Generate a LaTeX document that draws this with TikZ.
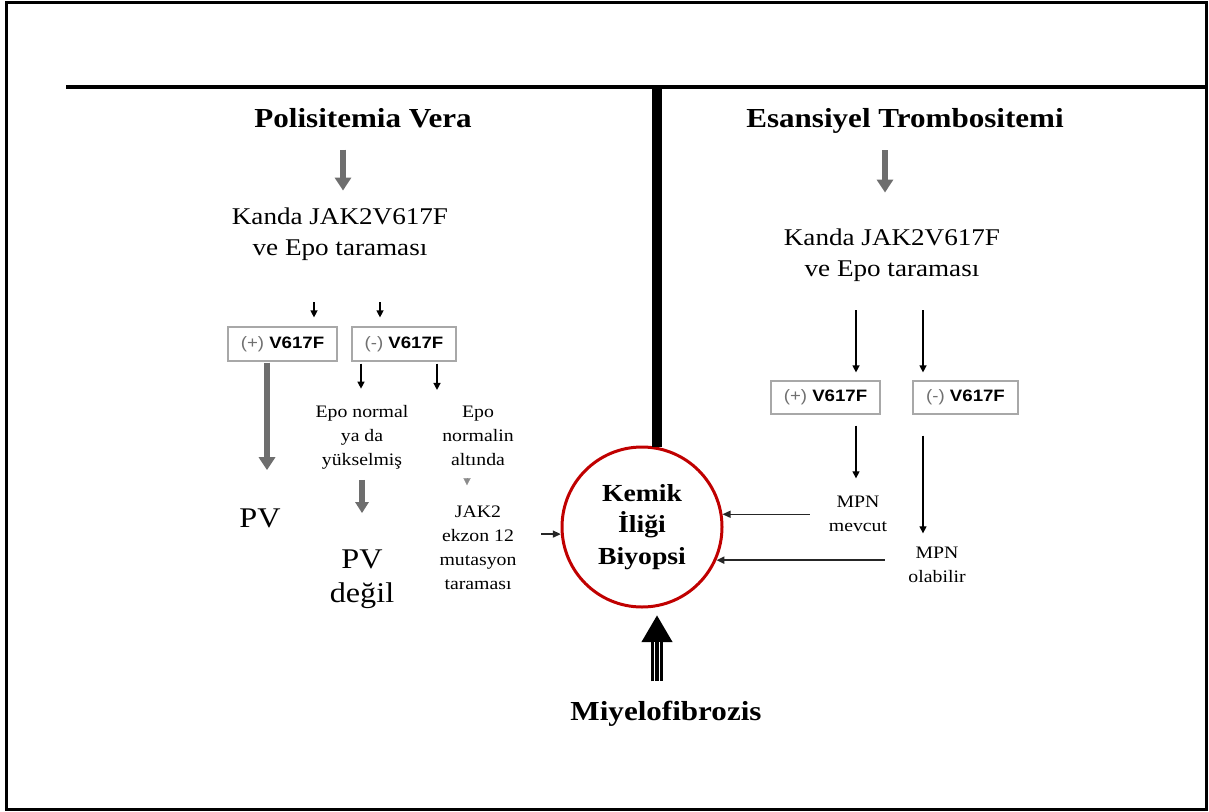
\documentclass[tikz,border=0pt]{standalone}
\usepackage{fontspec}
\setmainfont{Liberation Serif}[FakeStretch=1.13]
\setsansfont{Liberation Sans}[FakeStretch=1.13]
\usepackage{tikz}
\usetikzlibrary{arrows.meta}

\definecolor{arrgray}{HTML}{6E6E6E}
\definecolor{boxgray}{HTML}{A8A8A8}
\definecolor{signgray}{HTML}{707070}
\definecolor{kibred}{HTML}{C00000}

\tikzset{
  ttl/.style={inner sep=0pt, anchor=base, font=\fontsize{27.5}{33}\selectfont\bfseries},
  bigtxt/.style={inner sep=0pt, anchor=base, align=center, font=\fontsize{24}{31}\selectfont},
  smalltxt/.style={inner sep=0pt, anchor=base, align=center, font=\fontsize{17.5}{24}\selectfont},
  pvtxt/.style={inner sep=0pt, anchor=base, align=center, font=\fontsize{28.5}{34}\selectfont},
  vbox/.style={draw=boxgray, line width=1.2pt, minimum height=34pt, inner sep=0pt,
    font=\sffamily\fontsize{16.5}{20}\selectfont},
  kibcircle/.style={circle, draw=kibred, line width=3pt, minimum size=160pt, inner sep=0pt,
    align=center, font=\fontsize{24.5}{31.5}\selectfont\bfseries},
  grayarr/.style={arrgray, line width=6pt, -{Triangle[length=13pt,width=16pt]}},
  smallarr/.style={black, line width=1.3pt, -{Triangle[length=7pt,width=7pt]}},
  thinarr/.style={black!85, line width=1.4pt, -{Triangle[length=8pt,width=7pt]}},
  bigarr/.style={black, line width=12pt, -{Triangle[length=27pt,width=29pt]}}
}

\begin{document}
\begin{tikzpicture}[x=1pt,y=-1pt]
        \useasboundingbox (0,0) rectangle (1209,811);
        % Outer frame
        \draw[line width=3pt] (6,2) rectangle (1206,809);

        % Top bar and the thick divider
        \coordinate (barL) at (66,87);
        \coordinate (barR) at (1206,87);
        \coordinate (barM) at (657,87);
        \draw[line width=4pt] (barL) -- (barR);

        % Titles
        \node[ttl] (pvT) at (363,127) {Polisitemia Vera};
        \node[ttl] (etT) at (905,127) {Esansiyel Trombositemi};

        % Blood screening (base = last line)
        \node[bigtxt] (scanL) at (340,255) {Kanda JAK2V617F\\ve Epo taraması};
        \node[bigtxt] (scanR) at (892,276) {Kanda JAK2V617F\\ve Epo taraması};

        % V617F boxes
        \node[vbox, minimum width=109pt] (posL) at (282.5,344) {{\color{signgray}(+)} \textbf{V617F}};
        \node[vbox, minimum width=104pt] (negL) at (404,344) {{\color{signgray}(-)} \textbf{V617F}};
        \node[vbox, minimum width=109pt, minimum height=33pt] (posR) at (825.5,397.5) {{\color{signgray}(+)} \textbf{V617F}};
        \node[vbox, minimum width=105pt, minimum height=33pt] (negR) at (965.5,397.5) {{\color{signgray}(-)} \textbf{V617F}};

        % Results on the left
        \node[smalltxt] (highEpo) at (362,465) {Epo normal\\ya da\\yükselmiş};
        \node[smalltxt] (lowEpo) at (478,465) {Epo\\normalin\\altında};
        \node[smalltxt] (jak) at (478,589) {JAK2\\ekzon 12\\mutasyon\\taraması};
        \node[pvtxt] (pvRes) at (260,527) {PV};
        \node[pvtxt] (notPV) at (362,602) {PV\\değil};

        % Results on the right
        \node[smalltxt] (mpnA) at (858,531) {MPN\\mevcut};
        \node[smalltxt] (mpnB) at (937,582) {MPN\\olabilir};

        % Bone marrow biopsy and myelofibrosis
        \node[kibcircle] (kib) at (642,527) {Kemik\\İliği\\Biyopsi};
        \node[ttl] (mf) at (666,720) {Miyelofibrozis};

        \draw[line width=10pt] (barM) -- (barM |- kib.80);

        % Gray arrows under the titles
        \draw[grayarr, shorten <=22pt, shorten >=16.6pt] (pvT.south -| 343,0) -- (scanL.north -| 343,0);
        \draw[grayarr, shorten <=17pt, shorten >=35.6pt] (etT.south -| 885,0) -- (scanR.north -| 885,0);

        % Left branch
        \draw[smallarr, shorten <=41.8pt, shorten >=9pt] (scanL.south -| 314,0) -- (posL.north -| 314,0);
        \draw[smallarr, shorten <=41.8pt, shorten >=9pt] (scanL.south -| 380,0) -- (negL.north -| 380,0);
        \draw[grayarr, shorten <=1pt, shorten >=38pt] (posL.south -| 267,0) -- (pvRes.north -| 267,0);
        \draw[smallarr, shorten <=2pt, shorten >=16pt] (negL.south -| 361,0) -- (highEpo.north -| 361,0);
        \draw[smallarr, shorten <=2pt, shorten >=15.4pt] (negL.south -| 437,0) -- (lowEpo.north -| 437,0);
        \draw[grayarr, -{Triangle[length=11pt,width=13pt]}, shorten <=11pt, shorten >=36pt] (highEpo.south -| 362,0) -- (notPV.north -| 362,0);
        \draw[arrgray!80, line width=0.1pt, -{Triangle[length=7pt,width=7pt]}, shorten <=14pt, shorten >=20pt] (lowEpo.south -| 467,0) -- (jak.north -| 467,0);
        \draw[thinarr, shorten <=24.5pt] (jak.east |- kib.185) -- (kib.185);

        % Right branch
        \draw[smallarr, shorten <=29pt, shorten >=8pt] (scanR.south -| 856,0) -- (posR.north -| 856,0);
        \draw[smallarr, shorten <=29pt, shorten >=8pt] (scanR.south -| 923,0) -- (negR.north -| 923,0);
        \draw[smallarr, shorten <=11pt, shorten >=17pt] (posR.south -| 856,0) -- (mpnA.north -| 856,0);
        \draw[smallarr, shorten <=21pt, shorten >=13pt] (negR.south -| 923,0) -- (mpnB.north -| 923,0);
        \draw[thinarr, shorten <=19pt] (mpnA.west |- kib.9) -- (kib.9);
        \draw[thinarr, line width=2pt, shorten <=23.4pt] (mpnB.west |- kib.-24) -- (kib.-24);

        % Big arrow from myelofibrosis
        \draw[bigarr, shorten <=19pt, shorten >=6.5pt] (mf.north -| 657,0) -- (kib.south -| 657,0);
        \draw[white, line width=0.9pt, transform canvas={xshift=-2.5pt}, shorten <=19pt, shorten >=33.5pt] (mf.north -| 657,0) -- (kib.south -| 657,0);
        \draw[white, line width=0.9pt, transform canvas={xshift=2.5pt}, shorten <=19pt, shorten >=33.5pt] (mf.north -| 657,0) -- (kib.south -| 657,0);
\end{tikzpicture}
\end{document}
